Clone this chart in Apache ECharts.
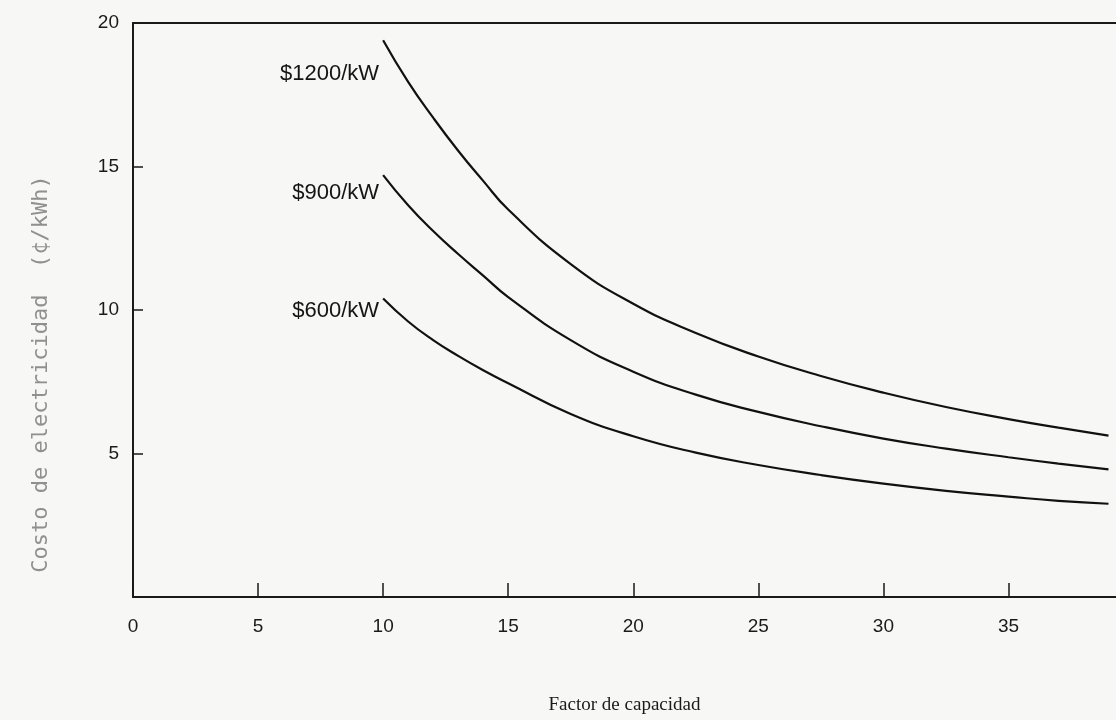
<!DOCTYPE html>
<html>
<head>
<meta charset="utf-8">
<script src="https://cdn.jsdelivr.net/npm/echarts@6/dist/echarts.min.js"></script>
<style>
html,body{margin:0;padding:0;background:#f7f7f5;}
#chart{width:1116px;height:720px;}
</style>
</head>
<body>
<div id="chart"></div>
<script>
// Capacity factor (x) and electricity cost (¢/kWh)
const capacityFactor = [10, 11, 12, 13, 14, 15, 17.5, 20, 22.5, 25, 27.5, 30, 32.5, 35, 37, 39];
const cost1200 = [19.4, 17.95, 16.7, 15.55, 14.5, 13.5, 11.6, 10.22, 9.2, 8.38, 7.7, 7.12, 6.62, 6.2, 5.9, 5.62];
const cost900  = [14.7, 13.65, 12.75, 11.95, 11.2, 10.45, 8.95, 7.85, 7.05, 6.45, 5.95, 5.52, 5.17, 4.87, 4.65, 4.45];
const cost600  = [10.4, 9.6, 8.95, 8.4, 7.9, 7.45, 6.38, 5.6, 5.03, 4.6, 4.25, 3.95, 3.7, 3.5, 3.35, 3.25];
const seriesNames = ['$1200/kW', '$900/kW', '$600/kW'];
const xTicks = [0, 5, 10, 15, 20, 25, 30, 35];
const yTicks = [5, 10, 15, 20];

const chart = echarts.init(document.getElementById('chart'));

function makeSeries(name, values, labelOffset) {
  return {
    type: 'line',
    name: name,
    data: capacityFactor.map((x, i) => [x, values[i]]),
    smooth: 0.5,
    symbol: 'none',
    lineStyle: { color: '#111', width: 2.2 },
    markPoint: {
      symbol: 'circle',
      symbolSize: 0,
      data: [{ coord: [capacityFactor[0], values[0]] }],
      label: {
        show: true,
        formatter: name,
        position: 'left',
        distance: 4,
        offset: labelOffset,
        color: '#151515',
        fontFamily: 'Liberation Sans',
        fontSize: 22
      }
    }
  };
}

const option = {
  backgroundColor: '#f7f7f5',
  animation: false,
  grid: { left: 133, right: 0, top: 23, bottom: 122 },
  xAxis: [
    {
      type: 'value', min: 0, max: 39.3, interval: 5,
      axisLine: { show: true, lineStyle: { color: '#1a1a1a', width: 2 } },
      axisTick: { show: true, inside: true, length: 14, lineStyle: { color: '#1a1a1a', width: 1.5 } },
      axisLabel: {
        color: '#1a1a1a', fontSize: 19, margin: 20, fontFamily: 'Liberation Sans',
        showMaxLabel: false,
        formatter: v => xTicks.includes(v) ? String(v) : ''
      },
      splitLine: { show: false },
      name: 'Factor de capacidad',
      nameLocation: 'middle',
      nameGap: 99,
      nameTextStyle: { fontFamily: 'Liberation Serif', fontSize: 19, color: '#1a1a1a' }
    },
    {
      type: 'value', position: 'top', min: 0, max: 39.3,
      axisLine: { show: true, lineStyle: { color: '#1a1a1a', width: 2 } },
      axisTick: { show: false }, axisLabel: { show: false }, splitLine: { show: false }
    }
  ],
  yAxis: {
    type: 'value', min: 0, max: 20, interval: 5,
    axisLine: { show: true, lineStyle: { color: '#1a1a1a', width: 2 } },
    axisTick: { show: true, inside: true, length: 10, lineStyle: { color: '#1a1a1a', width: 1.5 } },
    axisLabel: {
      color: '#1a1a1a', fontSize: 19, margin: 14, fontFamily: 'Liberation Sans',
      showMinLabel: false,
      formatter: v => yTicks.includes(v) ? String(v) : ''
    },
    splitLine: { show: false }
  },
  graphic: [{
    type: 'text',
    x: 41, y: 374,
    rotation: Math.PI / 2,
    style: {
      text: 'Costo de electricidad  (¢/kWh)',
      align: 'center', verticalAlign: 'middle',
      fill: '#909090',
      font: '22px "DejaVu Sans Mono"'
    }
  }],
  series: [
    makeSeries(seriesNames[0], cost1200, [0, 34]),
    makeSeries(seriesNames[1], cost900, [0, 18]),
    makeSeries(seriesNames[2], cost600, [0, 12])
  ]
};
chart.setOption(option);
</script>
</body>
</html>
